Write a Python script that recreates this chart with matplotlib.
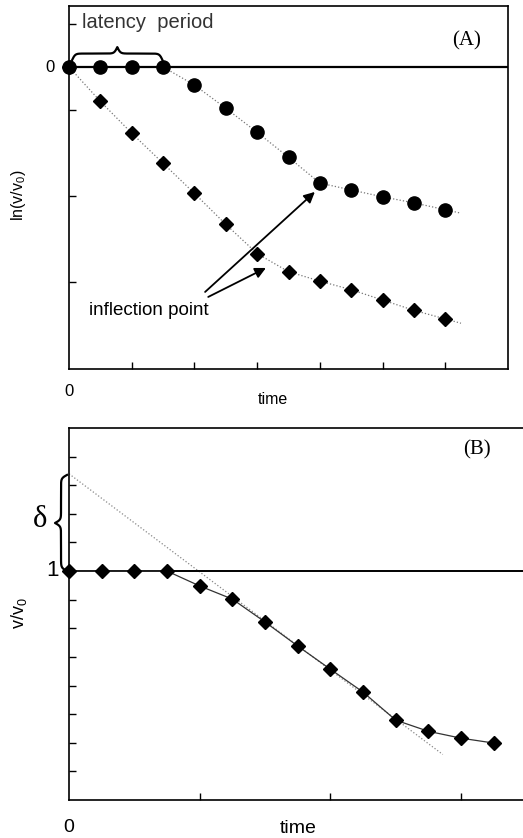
import numpy as np
import matplotlib
matplotlib.use("Agg")
import matplotlib.pyplot as plt

plt.rcParams['font.family'] = ['Liberation Sans', 'DejaVu Sans']
plt.rcParams['mathtext.default'] = 'regular'

# Panel A: ln(v/v0) vs time
t_a = [0, 0.5, 1, 1.5, 2, 2.5, 3, 3.5, 4, 4.5, 5, 5.5, 6]
ln_circle = [0, 0, 0, 0, -0.21, -0.48, -0.76, -1.05, -1.35, -1.43, -1.51, -1.58, -1.66]
ln_diamond = [0, -0.40, -0.77, -1.12, -1.47, -1.83, -2.17, -2.38, -2.49, -2.59, -2.71, -2.83, -2.93]

# Panel B: v/v0 vs time
t_b = [0, 0.25, 0.5, 0.75, 1, 1.25, 1.5, 1.75, 2, 2.25, 2.5, 2.75, 3, 3.25]
v_ratio = [1.0, 1.0, 1.0, 1.0, 0.948, 0.902, 0.822, 0.738, 0.657, 0.577, 0.479, 0.44, 0.416, 0.399]
tangent_b0, tangent_slope, tangent_end = 1.34, -0.343, 2.86

W, H = 523, 838
def fx(x):
    return x / W
def fy(y):
    return 1 - y / H


def brace(ax, a0, a1, base, depth, vertical=False, lw=1.6):
    # curly brace drawn with two sigmoids per half
    s = np.linspace(0, 0.5, 151)
    beta = 60
    half = 1 / (1 + np.exp(-beta * s)) + 1 / (1 + np.exp(-beta * (s - 0.5))) - 0.5
    prof = np.concatenate([half, half[-2::-1]])
    a = np.linspace(a0, a1, len(prof))
    b = base + depth * prof
    if vertical:
        ax.plot(b, a, color='black', lw=lw, clip_on=False)
    else:
        ax.plot(a, b, color='black', lw=lw, clip_on=False)


fig = plt.figure(figsize=(5.23, 8.38), dpi=100)

# ---------------- panel A ----------------
axA = fig.add_axes([fx(69), fy(369), fx(508) - fx(69), fy(6) - fy(369)])
axA.set_xlim(0, 7)
axA.set_ylim(-3.512, 0.709)
axA.axhline(0, color='black', lw=1.6, zorder=2)

# dotted guides through the points, extended a little past the last one
def extend(t, y, dt=0.25):
    slope = (y[-1] - y[-2]) / (t[-1] - t[-2])
    return list(t) + [t[-1] + dt], list(y) + [y[-1] + slope * dt]

tc, yc = extend(t_a, ln_circle)
td, yd = extend(t_a, ln_diamond)
axA.plot(tc, yc, ls=':', color='#777777', lw=0.9, zorder=1)
axA.plot(td, yd, ls=':', color='#777777', lw=0.9, zorder=1)
axA.plot(t_a, ln_circle, 'o', color='black', ms=9.5, zorder=3, clip_on=False)
axA.plot(t_a, ln_diamond, 'D', color='black', ms=7, zorder=3, clip_on=False)

axA.set_xticks([1, 2, 3, 4, 5, 6])
axA.set_xticklabels([])
axA.set_yticks([0.5, -0.5, -1.5, -2.5])
axA.set_yticklabels([])
axA.tick_params(direction='in', length=5, width=1)
for sp in axA.spines.values():
    sp.set_linewidth(1.2)

brace(axA, 0.05, 1.49, 0.081, 0.15)
axA.text(0.21, 0.512, 'latency  period', fontsize=14.5, va='center', ha='left',
         color='#333333')
axA.text(0.905, 0.905, '(A)', transform=axA.transAxes, fontsize=15,
         family='Liberation Serif', ha='center', va='center')
axA.text(0.32, -2.826, 'inflection point', fontsize=13.5, va='center', ha='left')
arrow = dict(arrowstyle='-|>', color='black', lw=1.3, mutation_scale=16,
             shrinkA=0, shrinkB=0)
axA.annotate('', xy=(3.92, -1.453), xytext=(2.17, -2.616), arrowprops=arrow)
axA.annotate('', xy=(3.14, -2.337), xytext=(2.22, -2.674), arrowprops=arrow)

fig.text(fx(50), fy(67), '0', fontsize=12, ha='center', va='center')
fig.text(fx(69), fy(392), '0', fontsize=12, ha='center', va='center')
fig.text(fx(273), fy(400), 'time', fontsize=11.5, ha='center', va='center')
fig.text(fx(18), fy(195), 'ln(v/v$_0$)', fontsize=11.5, ha='center', va='center',
         rotation=90)

# ---------------- panel B ----------------
axB = fig.add_axes([fx(69), fy(800), 1 - fx(69), fy(428) - fy(800)])
axB.set_xlim(0, (W - 69) / 130.7)
axB.set_ylim(0.2, 1.5)
axB.spines['right'].set_visible(False)
axB.axhline(1, color='black', lw=1.4, zorder=2)

tt = np.array([0, tangent_end])
axB.plot(tt, tangent_b0 + tangent_slope * tt, ls=':', color='#888888', lw=0.9, zorder=1)
axB.plot(t_b, v_ratio, '-', color='#333333', lw=0.9, zorder=2)
axB.plot(t_b, v_ratio, 'D', color='black', ms=7, zorder=3, clip_on=False)

axB.set_xticks([1, 2, 3])
axB.set_xticklabels([])
axB.set_yticks(np.arange(3, 15) / 10)
axB.set_yticklabels([])
axB.tick_params(direction='in', length=5, width=1)
for sp in axB.spines.values():
    sp.set_linewidth(1.2)

brace(axB, 1.0, 1.336, -0.015, -0.092, vertical=True)
fig.text(fx(40), fy(519), 'δ', fontsize=22, family='Liberation Serif',
         ha='center', va='center')
fig.text(fx(477), fy(450), '(B)', fontsize=15, family='Liberation Serif',
         ha='center', va='center')
fig.text(fx(53), fy(571), '1', fontsize=16, ha='center', va='center')
fig.text(fx(69), fy(827), '0', fontsize=14, ha='center', va='center')
fig.text(fx(298), fy(828), 'time', fontsize=14, ha='center', va='center')
fig.text(fx(19), fy(613), 'v/v$_0$', fontsize=13, ha='center', va='center',
         rotation=90)

fig.savefig('out.png', dpi=100)
